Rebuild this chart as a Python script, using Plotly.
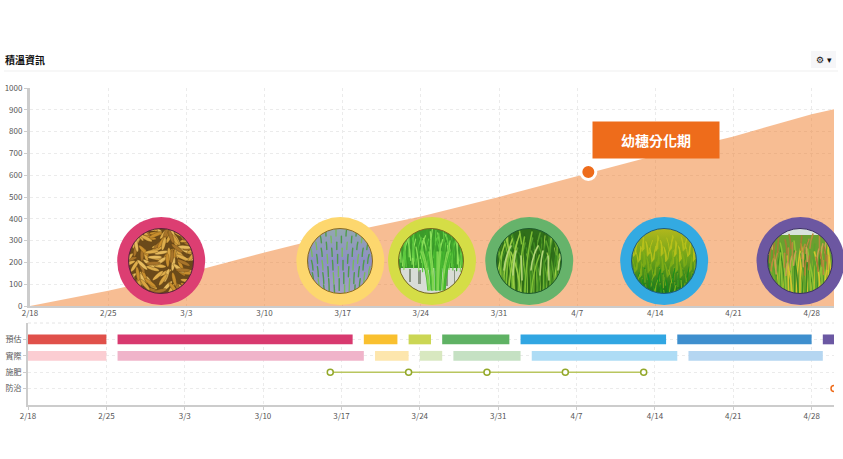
import base64
import math
import pandas as pd
import plotly.graph_objects as go

W, H = 843, 459
FONT = "Noto Sans CJK TC"

# accumulated temperature
temp_dates = ["2020-02-18", "2020-02-25", "2020-03-03", "2020-03-10", "2020-03-17", "2020-03-24",
              "2020-03-31", "2020-04-07", "2020-04-14", "2020-04-21", "2020-04-28", "2020-04-30"]
temp_values = [0, 70, 150, 245, 335, 410, 500, 595, 690, 778, 880, 903]

callout_date = ["2020-04-08"]
callout_value = [615]

# growth stage circles
stage_dates = ["2020-02-29 18:00", "2020-03-16 19:00", "2020-03-25 00:00",
               "2020-04-02 17:00", "2020-04-14 19:00", "2020-04-27 00:00"]
stage_values = [206, 206, 206, 206, 206, 206]
stage_colors = ["#dc3e72", "#fdd76e", "#d5dd46", "#66b36b", "#33aae2", "#6c57a1"]

rows = ["預估", "實際", "施肥", "防治"]

plan_start = ["2020-02-18", "2020-02-26", "2020-03-19", "2020-03-23", "2020-03-26", "2020-04-02", "2020-04-16", "2020-04-29"]
plan_end = ["2020-02-25", "2020-03-18", "2020-03-22", "2020-03-25", "2020-04-01", "2020-04-15", "2020-04-28", "2020-04-30"]
plan_colors = ["#e0504a", "#d8396f", "#f9c02f", "#cbd654", "#5fb264", "#31a6e2", "#3e8fce", "#6b58a3"]

real_start = ["2020-02-18", "2020-02-26", "2020-03-20", "2020-03-24", "2020-03-27", "2020-04-03", "2020-04-17"]
real_end = ["2020-02-25", "2020-03-19", "2020-03-23", "2020-03-26", "2020-04-02", "2020-04-16", "2020-04-29"]
real_colors = ["#fbcdd2", "#f0b4ca", "#fde6ad", "#d8e8c0", "#c5e1c3", "#aedcf5", "#b5d6f1"]

fert_dates = ["2020-03-16", "2020-03-23", "2020-03-30", "2020-04-06", "2020-04-13"]
pest_dates = ["2020-04-30"]


def frac(v):
    return v - math.floor(v)


def blade(x, y, lean, length, color, width):
    return (f'<path d="M{x:.1f} {y:.1f} Q{x + lean * 0.2:.1f} {y - length * 0.6:.1f} {x + lean:.1f} {y - length:.1f}" '
            f'stroke="{color}" stroke-width="{width}" fill="none" stroke-linecap="round"/>')


def photo(bg, body):
    # small svg stand-in for the photos in the circles
    svg = (f'<svg xmlns="http://www.w3.org/2000/svg" width="132" height="132" viewBox="0 0 66 66">'
           f'<defs><clipPath id="c"><circle cx="33" cy="33" r="32.5"/></clipPath>{bg[0]}</defs>'
           f'<g clip-path="url(#c)"><rect width="66" height="66" fill="{bg[1]}"/>{body}</g>'
           f'<circle cx="33" cy="33" r="32.5" fill="none" stroke="{bg[2]}" stroke-width="1"/></svg>')
    return "data:image/svg+xml;base64," + base64.b64encode(svg.encode()).decode()


def grad(stops):
    s = "".join(f'<stop offset="{o}" stop-color="{c}"/>' for o, c in stops)
    return f'<linearGradient id="g" x1="0" y1="0" x2="0" y2="1">{s}</linearGradient>'


def grains():
    cols = ["#d9a441", "#c98f2e", "#e6bb5e", "#a8742a", "#dfae4c"]
    out = ""
    for i in range(120):
        x, y = frac(i * 0.618) * 66, frac(i * 0.381 + i * i * 0.0031) * 66
        out += (f'<ellipse cx="{x:.1f}" cy="{y:.1f}" rx="7" ry="1.8" fill="{cols[i % 5]}" stroke="#5a3d12" '
                f'stroke-width="0.3" transform="rotate({(i * 137) % 180} {x:.1f} {y:.1f})"/>')
    return photo(("", "#6b4a1a", "#5d2140"), out)


def seedlings():
    out = ""
    for r in range(10):
        y = 4 + r * 6.5
        for c in range(7):
            x = c * 10 + (r % 2) * 5 - 1 + r * 0.4
            out += blade(x, y + 4 + r * 0.3, (c - 3) * 0.5, 6 + r * 0.7, "#4f9c4a" if (r + c) % 3 else "#77bb5f", 1.4)
    return photo((grad([(0, "#93a8b0"), (0.5, "#8d8fc4"), (1, "#a3a0c4")]), "url(#g)", "#8a6a20"), out)


def flooded():
    out = '<rect y="40" width="66" height="26" fill="#d8dcd6"/>'
    for i in range(7):
        out += f'<rect x="{i * 9 + 2:.0f}" y="{40 + i % 4}" width="{1 + i % 3}" height="{12 + i % 9}" fill="#8a9482"/>'
    for i in range(70):
        x = frac(i * 0.618) * 66
        out += blade(x, 28 + frac(i * 0.37) * 16, (frac(i * 0.73) - 0.5) * 12, 22 + i % 10,
                     ["#5dc93f", "#3fa52c", "#8be05a"][i % 3], 1.2)
    for i in range(18):
        x = 30 + frac(i * 0.618) * 18
        out += blade(x, 62, (x - 39) * 0.9, 38, ["#45b52f", "#7fd650"][i % 2], 1.5)
    return photo(("", "#3b9a2a", "#7a6a20"), out)


def leaves():
    out = ""
    for i in range(90):
        x = frac(i * 0.618) * 70 - 2
        out += blade(x, 68, (frac(i * 0.41) - 0.5) * 24, 40 + i % 28,
                     ["#7fbf35", "#5aa02c", "#2d6a16", "#98cc45", "#3f8c20"][i % 5], 1.5)
    for i in range(7):
        x = 8 + i * 9
        out += blade(x, 42 + (i % 3) * 5, 7 - i % 3 * 4, 24, "#b4d67a", 1.6)
    return photo(("", "#2f6f1a", "#1f5a30"), out)


def field():
    out = ""
    for i in range(220):
        x = frac(i * 0.618) * 68
        y = 10 + frac(i * 0.273) * 58
        col = "#b9c21c" if y < 26 else ("#7fae18" if y < 42 else ["#2c8a22", "#149018", "#8fb01c"][i % 3])
        out += blade(x, y + 10, (frac(i * 0.53) - 0.5) * 7, 13, col, 0.9)
    return photo((grad([(0, "#b3b81c"), (0.45, "#6fa31a"), (1, "#17721c")]), "url(#g)", "#1d5c80"), out)


def ripe():
    out = '<rect width="66" height="7" fill="#d8e3dc"/>'
    for i in range(70):
        x = frac(i * 0.618) * 68
        out += blade(x, 68, (frac(i * 0.41) - 0.5) * 14, 30 + i % 26,
                     ["#5ca32c", "#8fc234", "#d4c42e", "#3f8a22"][i % 4], 1.6)
    for i in range(34):
        x = frac(i * 0.755) * 66
        y = 4 + frac(i * 0.569) * 30
        out += blade(x, y + 14, 3 - i % 6, 14, ["#b98a3e", "#c9a052", "#a67a34"][i % 3], 1.6)
    return photo(("", "#6aa030", "#3c2c68"), out)


stage_photos = [grains(), seedlings(), flooded(), leaves(), field(), ripe()]
photo_x = [161, 340, 431, 529, 664, 800]
photo_y = 261


def span_ms(start, end):
    return [(pd.Timestamp(e) - pd.Timestamp(s)).total_seconds() * 1000 for s, e in zip(start, end)]


fig = go.Figure()

fig.add_trace(go.Scatter(x=temp_dates, y=temp_values, mode="lines", line=dict(width=0),
                         fill="tozeroy", fillcolor="rgba(239,123,39,0.5)", xaxis="x", yaxis="y"))
fig.add_trace(go.Scatter(x=callout_date, y=callout_value, mode="markers", cliponaxis=False,
                         marker=dict(size=15, color="#ee6c1b", line=dict(color="white", width=3)),
                         xaxis="x", yaxis="y"))
fig.add_trace(go.Scatter(x=stage_dates, y=stage_values, mode="markers", cliponaxis=False,
                         marker=dict(size=88, color=stage_colors, line=dict(width=0)),
                         xaxis="x", yaxis="y"))

fig.add_trace(go.Bar(y=[rows[0]] * len(plan_start), x=span_ms(plan_start, plan_end), base=plan_start,
                     orientation="h", width=0.6, marker=dict(color=plan_colors, line=dict(width=0)),
                     xaxis="x2", yaxis="y2"))
fig.add_trace(go.Bar(y=[rows[1]] * len(real_start), x=span_ms(real_start, real_end), base=real_start,
                     orientation="h", width=0.6, marker=dict(color=real_colors, line=dict(width=0)),
                     xaxis="x2", yaxis="y2"))
fig.add_trace(go.Scatter(x=fert_dates, y=[rows[2]] * len(fert_dates), mode="lines+markers",
                         line=dict(color="#b9c65f", width=1.5),
                         marker=dict(size=6, color="white", line=dict(color="#93a82a", width=1.5)),
                         xaxis="x2", yaxis="y2"))
fig.add_trace(go.Scatter(x=pest_dates, y=[rows[3]] * len(pest_dates), mode="markers",
                         marker=dict(size=6, color="white", line=dict(color="#ee6c1b", width=1.5)),
                         xaxis="x2", yaxis="y2"))

date_axis = dict(type="date", range=["2020-02-18", "2020-04-30"], tick0="2020-02-18", dtick=7 * 86400000,
                 tickformat="%-m/%-d", tickfont=dict(size=8, color="#555", family=FONT),
                 showgrid=True, gridcolor="#ebebeb", griddash="dot", gridwidth=1,
                 showline=True, linecolor="#cccccc", linewidth=2, ticks="outside", ticklen=3, tickcolor="#ccc",
                 zeroline=False)
value_axis = dict(tickfont=dict(size=8, color="#555", family=FONT), showgrid=True, gridcolor="#ebebeb",
                  griddash="dot", gridwidth=1, showline=True, linecolor="#cccccc", linewidth=3,
                  ticks="outside", ticklen=3, tickcolor="#ccc", zeroline=False)

fig.update_layout(
    width=W, height=H, margin=dict(l=0, r=0, t=0, b=0, pad=0, autoexpand=False), autosize=False,
    paper_bgcolor="white", plot_bgcolor="white", showlegend=False, barmode="overlay",
    font=dict(family=FONT),
    xaxis=dict(date_axis, domain=[30 / W, 834 / W], anchor="y", ticks="", ticklen=0, ticklabelstandoff=-2),
    yaxis=dict(value_axis, domain=[1 - 306 / H, 1 - 88 / H], range=[0, 1000], dtick=100, anchor="x"),
    xaxis2=dict(date_axis, domain=[28 / W, 834 / W], anchor="y2", ticklabelstandoff=-1),
    yaxis2=dict(value_axis, domain=[1 - 405 / H, 1 - 323 / H], type="category", categoryorder="array",
                categoryarray=rows, range=[4, -1], anchor="x2", linewidth=2),
    images=[dict(source=src, xref="paper", yref="paper", x=px / W, y=1 - photo_y / H, sizex=66 / W, sizey=66 / H,
                 xanchor="center", yanchor="middle", sizing="stretch", layer="above")
            for src, px in zip(stage_photos, photo_x)],
    shapes=[
        dict(type="line", xref="paper", yref="paper", x0=4 / W, x1=838 / W, y0=1 - 71 / H, y1=1 - 71 / H,
             line=dict(color="#efefef", width=1)),
        dict(type="line", xref="paper", yref="paper", x0=28 / W, x1=834 / W, y0=1 - 323 / H, y1=1 - 323 / H,
             line=dict(color="#e4e4e4", width=1, dash="dot")),
        dict(type="rect", xref="paper", yref="paper", x0=811 / W, x1=836 / W, y0=1 - 68 / H, y1=1 - 51 / H,
             fillcolor="#f6f6f8", line=dict(width=0), layer="below"),
    ],
    annotations=[
        dict(text="<b>積溫資訊</b>", xref="paper", yref="paper", x=3 / W, y=1 - 59 / H, xanchor="left", yanchor="middle",
             showarrow=False, font=dict(size=10, color="#111", family=FONT)),
        dict(text="⚙ ▾", xref="paper", yref="paper", x=824 / W, y=1 - 59.5 / H, xanchor="center", yanchor="middle",
             showarrow=False, font=dict(size=9, color="#111", family="DejaVu Sans")),
        dict(text="<b>幼穗分化期</b>", xref="paper", yref="paper", x=656 / W, y=1 - 140 / H, xanchor="center",
             yanchor="middle", showarrow=False, width=126, height=36, bgcolor="#ee6c1b", borderpad=0,
             font=dict(size=14, color="white", family=FONT)),
    ],
)

fig.write_html("out.html", config=dict(displayModeBar=False), post_script="document.body.style.margin='0';")
